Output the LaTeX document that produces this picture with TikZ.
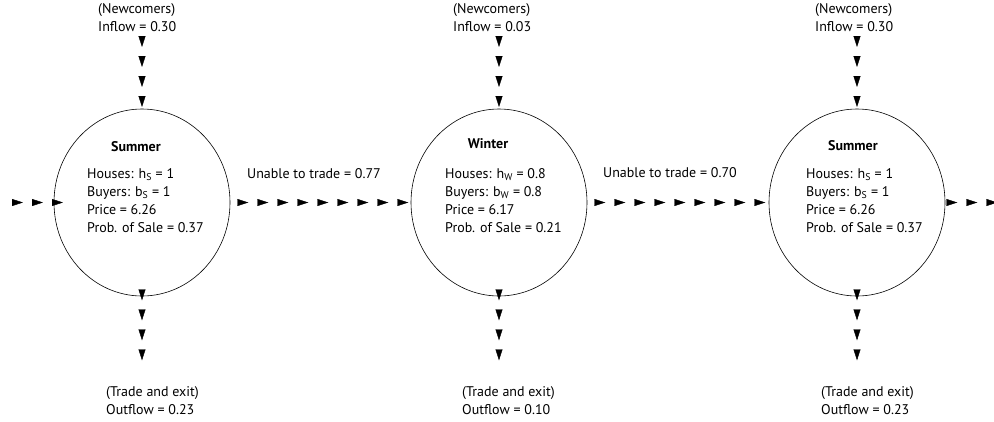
\documentclass[tikz,border=0pt]{standalone}
\usepackage{fontspec}
\setmainfont{PT Sans}
\usetikzlibrary{arrows.meta,decorations.markings,shapes.geometric,positioning}

\tikzset{
  season/.style={ellipse,draw,line width=0.6pt,minimum width=176pt,minimum height=187pt,inner sep=0pt},
  txt/.style={inner sep=0pt,anchor=base west,align=left,font=\fontsize{14}{18}\selectfont},
  ttl/.style={inner sep=0pt,anchor=base,font=\fontsize{14}{18}\selectfont\bfseries},
  flow/.style={postaction={decorate},decoration={markings,
      mark=between positions #1 and 1 step 20pt with {\arrow{Triangle[length=11pt,width=7pt]}}}},
}

\begin{document}
\begin{tikzpicture}[x=1pt,y=-1pt]
    \useasboundingbox (0,0) rectangle (994,421);

    % seasons
    \node[season] (s1) at (142,202.5) {};
    \node[season] (w)  at (499,202.5) {};
    \node[season] (s2) at (857,202.5) {};

    \node[ttl] (s1t) at (136,151) {Summer};
    \node[ttl] (wt)  at (488,148) {Winter};
    \node[ttl] (s2t) at (853,150) {Summer};

    % base = last line
    \node[txt] (s1i) at (87,232)  {Houses: h\textsubscript{S} = 1\\Buyers: b\textsubscript{S} = 1\\Price = 6.26\\Prob. of Sale = 0.37};
    \node[txt] (wi)  at (445,232) {Houses: h\textsubscript{W} = 0.8\\Buyers: b\textsubscript{W} = 0.8\\Price = 6.17\\Prob. of Sale = 0.21};
    \node[txt] (s2i) at (806,232) {Houses: h\textsubscript{S} = 1\\Buyers: b\textsubscript{S} = 1\\Price = 6.26\\Prob. of Sale = 0.37};

    % inflows and outflows
    \node[txt] (in1)  at (98,31)   {(Newcomers)\\Inflow = 0.30};
    \node[txt] (in2)  at (453,31)  {(Newcomers)\\Inflow = 0.03};
    \node[txt] (in3)  at (815,31)  {(Newcomers)\\Inflow = 0.30};
    \node[txt] (out1) at (106,414) {(Trade and exit)\\Outflow = 0.23};
    \node[txt] (out2) at (462,414) {(Trade and exit)\\Outflow = 0.10};
    \node[txt] (out3) at (821,414) {(Trade and exit)\\Outflow = 0.23};

    \node[txt] (u1) at (247,178) {Unable to trade = 0.77};
    \node[txt] (u2) at (603,177) {Unable to trade = 0.70};

    \coordinate (a1) at (142,32);
    \coordinate (a2) at (499,32);
    \coordinate (a3) at (857,32);
    \coordinate (b1) at (142,370);
    \coordinate (b2) at (499,370);
    \coordinate (b3) at (857,370);
    \coordinate (l)  at (0,202.5);
    \coordinate (r)  at (1000,202.5);

    \path[flow=15pt] (a1) -- (s1.north);
    \path[flow=15pt] (a2) -- (w.north);
    \path[flow=15pt] (a3) -- (s2.north);
    \path[flow=4pt] (s1.south) -- (b1);
    \path[flow=4pt] (w.south) -- (b2);
    \path[flow=4pt] (s2.south) -- (b3);

    \path[flow=23pt] (l) -- ([xshift=10pt]s1.west);
    \path[flow=18pt] (s1.east) -- (w.west);
    \path[flow=18pt] (w.east) -- (s2.west);
    \path[flow=12pt] (s2.east) -- (r);
\end{tikzpicture}
\end{document}
